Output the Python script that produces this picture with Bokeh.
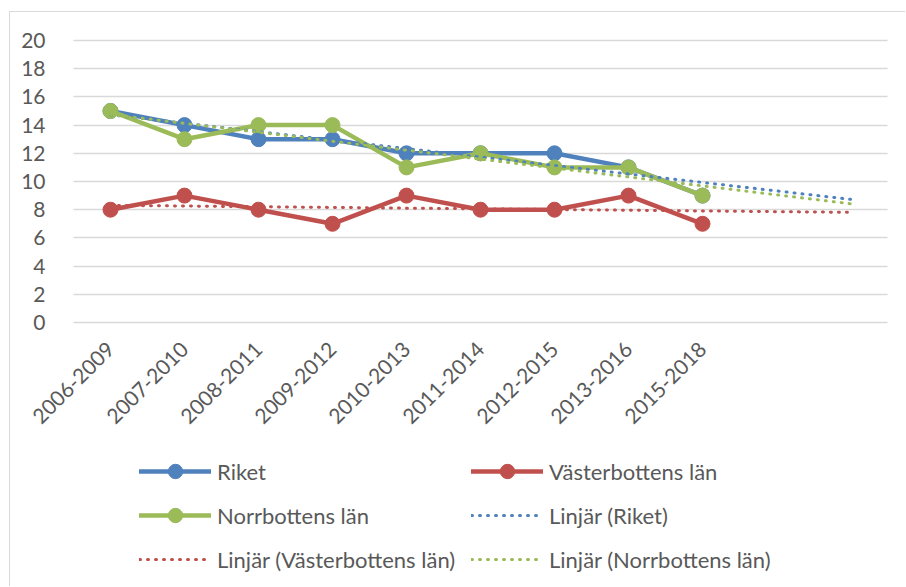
import numpy as np
from bokeh.plotting import figure
from bokeh.models import Range1d, FixedTicker, Legend, LegendItem, LinearAxis, Grid
from bokeh.embed import file_html
from bokeh.resources import INLINE

# ---- data ----
periods = ["2006-2009", "2007-2010", "2008-2011", "2009-2012", "2010-2013",
           "2011-2014", "2012-2015", "2013-2016", "2015-2018"]
riket = [15, 14, 13, 13, 12, 12, 12, 11, 9]
vasterbotten = [8, 9, 8, 7, 9, 8, 8, 9, 7]
norrbotten = [15, 13, 14, 14, 11, 12, 11, 11, 9]
forecast_forward = 2  # trendlines extended two periods forward
y_ticks = list(range(0, 21, 2))

names = ["Riket", "Västerbottens län", "Norrbottens län"]
colors = ["#4F81BD", "#C0504D", "#9BBB59"]
series = [riket, vasterbotten, norrbotten]

FONT = "Lato"
TXT = "#595959"
FS_AX = "21px"
FS_LEG = "22px"

xs = list(range(len(periods)))
n_slots = len(periods) + forecast_forward

# layout geometry (page pixels); canvas starts at page (10, 12)
cx0, cy0 = 10, 12
W, H = 906 - cx0, 587 - cy0
plot_left, plot_right = 73, 887
y20, y0, frame_bottom = 40, 322, 585
px_unit_y = (y0 - y20) / 20.0
px_slot = (plot_right - plot_left) / n_slots
x_start = -0.5 - (plot_left - cx0) / px_slot
x_end = n_slots - 0.5 + (906 - plot_right) / px_slot
y_max = 20 + (y20 - cy0) / px_unit_y
y_min = -(frame_bottom - y0) / px_unit_y

p = figure(width=W, height=H, output_backend="svg", toolbar_location=None,
           x_range=Range1d(x_start, x_end), y_range=Range1d(y_min, y_max),
           min_border_left=0, min_border_top=0, min_border_right=0,
           min_border_bottom=H - (frame_bottom - cy0),
           x_axis_location=None, y_axis_location=None)
p.styles = {"margin-left": "9px", "margin-top": "11px",
            "border-left": "1px solid #D9D9D9", "border-top": "1px solid #D9D9D9"}
p.outline_line_color = None
p.background_fill_color = "white"
p.border_fill_color = "white"

# horizontal grid lines limited to the plot area
p.xgrid.visible = False
p.ygrid.visible = False
if "cross_bounds" in Grid.properties():
    g = Grid(dimension=1, ticker=FixedTicker(ticks=y_ticks),
             cross_bounds=(-0.5, n_slots - 0.5),
             grid_line_color="#D9D9D9", grid_line_width=1.5)
    p.add_layout(g)
else:
    p.segment(x0=[-0.5] * len(y_ticks), x1=[n_slots - 0.5] * len(y_ticks),
              y0=y_ticks, y1=y_ticks, line_color="#D9D9D9", line_width=1.5)

axis_style = dict(axis_line_color=None, major_tick_line_color=None,
                  minor_tick_line_color=None, major_label_text_font=FONT,
                  major_label_text_font_size=FS_AX, major_label_text_color=TXT)

# y axis at the left edge of the plot area
yaxis = LinearAxis(fixed_location=-0.5, ticker=FixedTicker(ticks=y_ticks),
                   major_label_standoff=22, **axis_style)
p.add_layout(yaxis, "left")

# x axis, drawn at y = 0
xaxis = LinearAxis(fixed_location=0, ticker=FixedTicker(ticks=xs),
                   major_label_overrides={i: lab for i, lab in enumerate(periods)},
                   major_label_orientation=np.pi / 4,
                   major_label_standoff=17, **axis_style)
p.add_layout(xaxis, "below")

series_items = []
for name, col, ys in zip(names, colors, series):
    l = p.line(xs, ys, line_color=col, line_width=4.5, line_join="round", line_cap="round")
    s = p.scatter(xs, ys, size=15, fill_color=col, line_color=col)
    series_items.append(LegendItem(label=name, renderers=[l, s]))

trend_items = []
tx = np.array([0, n_slots - 1], dtype=float)
for name, col, ys in zip(names, colors, series):
    k, m = np.polyfit(xs, ys, 1)
    t = p.line(tx, k * tx + m, line_color=col, line_width=3, line_dash="1 7",
               line_cap="round")
    trend_items.append(LegendItem(label=f"Linjär ({name})", renderers=[t]))

items = series_items + trend_items
legend = Legend(items=items, location=(139 - cx0, 8), orientation="horizontal", ncols=2,
                glyph_width=72, glyph_height=36, label_height=36, spacing=8,
                label_standoff=6, label_width=246, padding=0, margin=0,
                border_line_color=None, background_fill_alpha=0,
                label_text_font=FONT, label_text_font_size=FS_LEG,
                label_text_color=TXT)
p.add_layout(legend, "center")

open("out.html", "w").write(file_html(p, INLINE))
